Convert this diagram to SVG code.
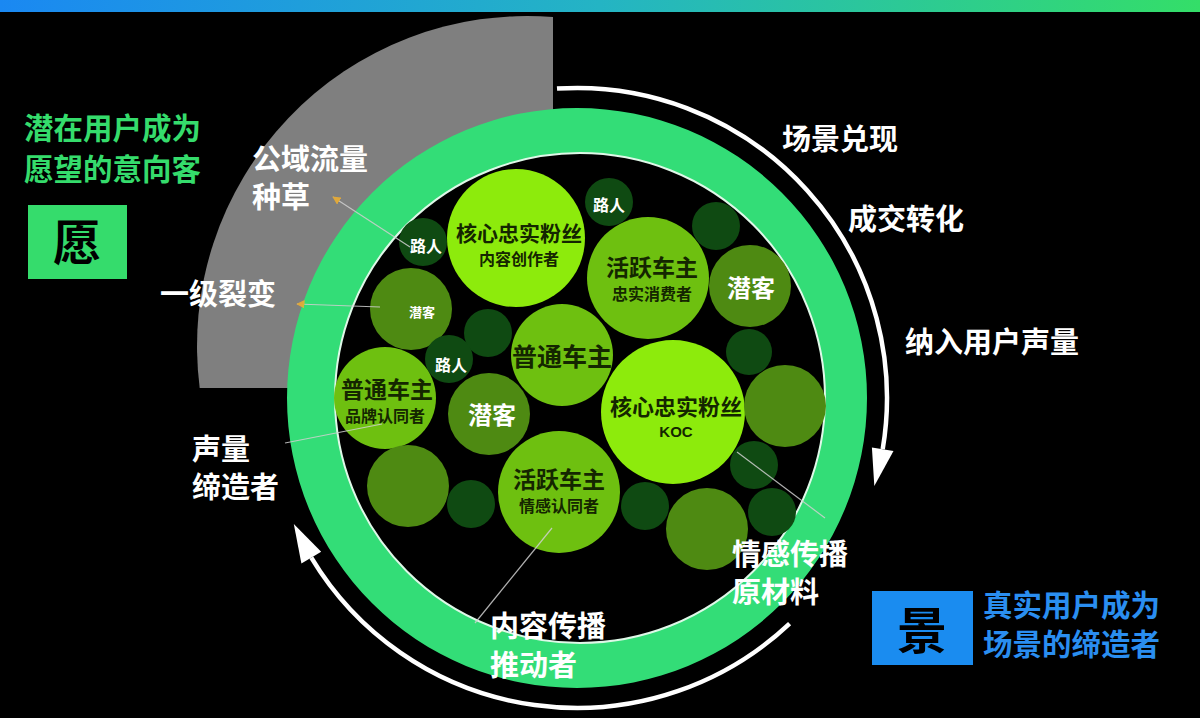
<svg xmlns="http://www.w3.org/2000/svg" width="1200" height="718" viewBox="0 0 1200 718">
<defs>
<linearGradient id="topbar" x1="0" y1="0" x2="1" y2="0">
<stop offset="0" stop-color="#1a88f2"/>
<stop offset="0.5" stop-color="#24b4c4"/>
<stop offset="1" stop-color="#34de68"/>
</linearGradient>
<marker id="orange" viewBox="0 0 10 10" refX="9" refY="5" markerWidth="7" markerHeight="7" orient="auto">
<path d="M0,0 L10,5 L0,10 Z" fill="#f0b030"/>
</marker>
<style>
.lbl{font-family:"Noto Sans CJK SC","Noto Sans",sans-serif;font-weight:700;font-size:29px;fill:#ffffff}
.grn{fill:#35dc6c;font-size:29.5px}
.blu{fill:#2a8ef0;font-size:29.5px}
.ct{font-family:"Noto Sans CJK SC","Noto Sans",sans-serif;font-weight:700;text-anchor:middle;fill:#142600}
.cw{font-family:"Noto Sans CJK SC","Noto Sans",sans-serif;font-weight:700;text-anchor:middle;fill:#ffffff}
.bright{fill:#8deb0c}
.medium{fill:#6ec010}
.olive{fill:#4e8a12}
.dark{fill:#0f4a12}
.conn{stroke:#d0d0d0;stroke-width:1.2;fill:none;opacity:0.85}
.warc{stroke:#ffffff;stroke-width:4.5;fill:none}
</style>
</defs>
<rect x="0" y="0" width="1200" height="718" fill="#000000"/>
<rect x="0" y="0" width="1200" height="12" fill="url(#topbar)"/>

<!-- grey sector -->
<path id="grey-sector" d="M553,388 L199.7,388 A330,330 0 0 1 553,17 Z" fill="#7f7f7f"/>

<!-- white cycle arcs -->
<g id="cycle-arrows">
<path class="warc" d="M557,88.6 A310,310 0 0 1 882.7,449.2"/>
<polygon points="874.3,486 893.5,451 871.9,447.4" fill="#ffffff"/>
<path class="warc" d="M789.6,623.6 A310,310 0 0 1 311.3,557.7"/>
<polygon points="293.8,524.1 321.2,551.8 301.4,563.6" fill="#ffffff"/>
</g>

<!-- green ring -->
<g id="ring">
<path d="M287,398 A290,290 0 1 0 867,398 A290,290 0 1 0 287,398 Z M335,398 A245,245 0 1 1 825,398 A245,245 0 1 1 335,398 Z" fill="#33dd77" fill-rule="evenodd"/>
<circle cx="580" cy="398" r="245" fill="#000000" stroke="#dff8e8" stroke-width="2"/>
</g>

<!-- circles -->
<g id="c-core1"><circle class="bright" cx="516" cy="238" r="69"/>
<text class="ct" x="519" y="241" font-size="21">核心忠实粉丝</text>
<text class="ct" x="519" y="265" font-size="16">内容创作者</text></g>
<g id="c-pass1"><circle class="dark" cx="609" cy="202" r="24"/>
<text class="cw" x="609" y="211" font-size="16">路人</text></g>
<g id="c-active1"><circle class="medium" cx="648" cy="278" r="61"/>
<text class="ct" x="652" y="276" font-size="23">活跃车主</text>
<text class="ct" x="652" y="300" font-size="16">忠实消费者</text></g>
<g id="c-pot1"><circle class="olive" cx="750" cy="286" r="41"/>
<text class="cw" x="751" y="297" font-size="24">潜客</text></g>
<g id="c-d1"><circle class="dark" cx="716" cy="226" r="24"/></g>
<g id="c-pass2"><circle class="dark" cx="423" cy="242" r="24"/>
<text class="cw" x="426" y="252" font-size="16">路人</text></g>
<g id="c-pot2"><circle class="olive" cx="411" cy="309" r="41"/>
<text class="cw" x="422" y="317" font-size="13">潜客</text></g>
<g id="c-d2"><circle class="dark" cx="488" cy="333" r="24"/></g>
<g id="c-pass3"><circle class="dark" cx="449" cy="359" r="24"/>
<text class="cw" x="451" y="371" font-size="16">路人</text></g>
<g id="c-normal1"><circle class="medium" cx="562" cy="355" r="51"/>
<text class="ct" x="562" y="366" font-size="25">普通车主</text></g>
<g id="c-normal2"><circle class="medium" cx="385" cy="398" r="51"/>
<text class="ct" x="387" y="398" font-size="23">普通车主</text>
<text class="ct" x="385" y="422" font-size="16">品牌认同者</text></g>
<g id="c-pot3"><circle class="olive" cx="489" cy="414" r="41"/>
<text class="cw" x="492" y="424" font-size="24">潜客</text></g>
<g id="c-core2"><circle class="bright" cx="673" cy="412" r="72"/>
<text class="ct" x="676" y="415" font-size="22">核心忠实粉丝</text>
<text class="ct" x="676" y="437" font-size="15" style="font-family:'Liberation Sans',sans-serif">KOC</text></g>
<g id="c-d3"><circle class="dark" cx="749" cy="352" r="23"/></g>
<g id="c-o1"><circle class="olive" cx="785" cy="406" r="41"/></g>
<g id="c-d4"><circle class="dark" cx="754" cy="465" r="24"/></g>
<g id="c-d5"><circle class="dark" cx="772" cy="512" r="24"/></g>
<g id="c-o2"><circle class="olive" cx="707" cy="529" r="41"/></g>
<g id="c-d6"><circle class="dark" cx="645" cy="506" r="24"/></g>
<g id="c-active2"><circle class="medium" cx="559" cy="492" r="61"/>
<text class="ct" x="559" y="488" font-size="23">活跃车主</text>
<text class="ct" x="559" y="512" font-size="16">情感认同者</text></g>
<g id="c-d7"><circle class="dark" cx="471" cy="504" r="24"/></g>
<g id="c-o3"><circle class="olive" cx="408" cy="486" r="41"/></g>

<!-- connectors -->
<g id="connectors">
<line class="conn" x1="410" y1="247" x2="333" y2="197" marker-end="url(#orange)"/>
<line class="conn" x1="380" y1="307" x2="297" y2="304" marker-end="url(#orange)"/>
<line class="conn" x1="382" y1="424" x2="285" y2="443"/>
<line class="conn" x1="552" y1="528" x2="475" y2="623"/>
<line class="conn" x1="737" y1="452" x2="825" y2="518"/>
</g>

<!-- left panel -->
<g id="wish-title">
<text class="lbl grn" x="24" y="139">潜在用户成为</text>
<text class="lbl grn" x="24" y="180">愿望的意向客</text>
</g>
<g id="wish-box">
<rect x="28" y="205" width="99" height="74" fill="#35dc6c"/>
<text x="77" y="260" font-family="Noto Sans CJK SC, sans-serif" font-size="48" font-weight="700" fill="#000000" text-anchor="middle">愿</text>
</g>

<!-- labels -->
<g id="label-public"><text class="lbl" x="252" y="170">公域流量</text><text class="lbl" x="252" y="208">种草</text></g>
<g id="label-fission"><text class="lbl" x="160" y="305">一级裂变</text></g>
<g id="label-scene"><text class="lbl" x="782" y="150">场景兑现</text></g>
<g id="label-deal"><text class="lbl" x="848" y="230">成交转化</text></g>
<g id="label-voice"><text class="lbl" x="905" y="353">纳入用户声量</text></g>
<g id="label-creator"><text class="lbl" x="192" y="460">声量</text><text class="lbl" x="192" y="498">缔造者</text></g>
<g id="label-content"><text class="lbl" x="490" y="637">内容传播</text><text class="lbl" x="490" y="676">推动者</text></g>
<g id="label-emotion"><text class="lbl" x="732" y="565">情感传播</text><text class="lbl" x="732" y="603">原材料</text></g>

<!-- right box -->
<g id="scene-box">
<rect x="872" y="591" width="101" height="74" fill="#1a8cf0"/>
<text x="922" y="649" font-family="Noto Sans CJK SC, sans-serif" font-size="50" font-weight="700" fill="#000000" text-anchor="middle">景</text>
</g>
<g id="scene-title">
<text class="lbl blu" x="983" y="616">真实用户成为</text>
<text class="lbl blu" x="983" y="655">场景的缔造者</text>
</g>
</svg>
